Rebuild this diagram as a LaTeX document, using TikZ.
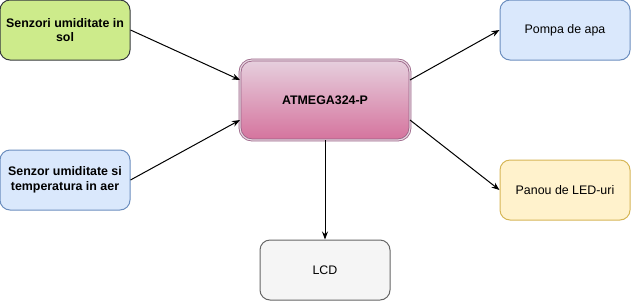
\documentclass[tikz,border=0pt]{standalone}
\usepackage{fontspec}
\setmainfont{Liberation Sans}
\usetikzlibrary{arrows.meta}
\definecolor{gfill}{HTML}{CDEB8B}
\definecolor{gline}{HTML}{36393D}
\definecolor{bfill}{HTML}{DAE8FC}
\definecolor{bline}{HTML}{6C8EBF}
\definecolor{yfill}{HTML}{FFF2CC}
\definecolor{yline}{HTML}{D6B656}
\definecolor{lfill}{HTML}{F5F5F5}
\definecolor{lline}{HTML}{666666}
\definecolor{ptop}{HTML}{E6D0DE}
\definecolor{pbot}{HTML}{D5739D}
\definecolor{pline}{HTML}{996185}
\begin{document}
\begin{tikzpicture}[x=0.75pt,y=-0.75pt,
  box/.style={rounded corners=7.5pt, line width=0.75pt, minimum width=97.5pt, minimum height=45pt, align=center, font=\fontsize{9.3}{11}\selectfont, inner sep=0pt},
  conn/.style={-{Stealth[length=6pt,width=4.5pt]}, line width=0.75pt, black}]
\useasboundingbox (0,0) rectangle (631,301);
\node[box, draw=gline, fill=gfill, font=\fontsize{9.3}{11}\selectfont\bfseries] (s1) at (65,30) {Senzori umiditate in\\sol};
\node[box, draw=bline, fill=bfill, font=\fontsize{9.3}{11}\selectfont\bfseries] (s2) at (65,180) {Senzor umiditate si\\temperatura in aer};
\node[box, draw=bline, fill=bfill] (p) at (565,30) {Pompa de apa};
\node[box, draw=yline, fill=yfill] (l) at (565,190) {Panou de LED-uri};
\node[box, draw=lline, fill=lfill] (lcd) at (325,270) {LCD};
\node[box, draw=pline, top color=ptop, bottom color=pbot, minimum width=127.5pt, minimum height=60pt, rounded corners=9pt, font=\fontsize{9.3}{11}\selectfont\bfseries, double=white!75!pline, double distance=0.9pt, line width=0.6pt] (m) at (325,100) {ATMEGA324-P};
\draw[conn] (s1.east) -- (240,80);
\draw[conn] (s2.east) -- (240,120);
\draw[conn] (410,80) -- (p.west);
\draw[conn] (410,120) -- (l.west);
\draw[conn] (m.south) -- (lcd.north);
\end{tikzpicture}
\end{document}
